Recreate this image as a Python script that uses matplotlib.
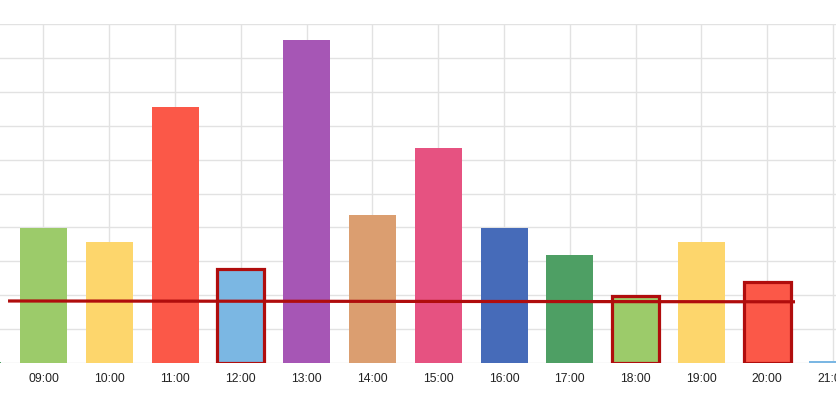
import matplotlib
matplotlib.use("Agg")
import matplotlib.pyplot as plt
import numpy as np

hours = ["08:00", "09:00", "10:00", "11:00", "12:00", "13:00", "14:00",
         "15:00", "16:00", "17:00", "18:00", "19:00", "20:00", "21:00"]
counts = [0.1, 10, 9, 19, 7, 24, 11, 16, 10, 8, 5, 9, 6, 0.15]
highlighted = ["12:00", "18:00", "20:00"]
palette = ["#4E9F64", "#9CCB6A", "#FDD66C", "#FB5848", "#7BB7E3",
           "#A656B5", "#DB9E70", "#E65281", "#466BB9"]
ref_line_start = 4.61
ref_line_end = 4.55
y_max = 25.2

plt.rcParams['font.family'] = ['Liberation Sans', 'DejaVu Sans']

fig = plt.figure(figsize=(8.36, 3.95), dpi=100)
ax = fig.add_axes([0, 1 - 363 / 395, 1, (363 - 24) / 395])

x = np.arange(len(hours))
colors = [palette[i % len(palette)] for i in range(len(hours))]
bars = ax.bar(x, counts, width=0.714, color=colors, zorder=2, linewidth=0)
for b, h in zip(bars, hours):
    if h in highlighted:
        b.set_edgecolor("#B00D0D")
        b.set_linewidth(2.3)
        b.set_zorder(3)

ax.plot([0.461, 12.423], [ref_line_start, ref_line_end], color="#B00D0D",
        linewidth=2.3, zorder=4, solid_capstyle="butt")

ax.set_yticks(np.linspace(0, y_max, 11))
ax.set_xticks(x)
ax.set_xticklabels(hours, fontsize=8.8, color="#222222")
ax.set_xlim(0.339, 13.046)
ax.set_ylim(0, y_max)
ax.tick_params(axis='both', length=0, pad=7)
ax.tick_params(axis='y', labelleft=False)
ax.grid(True, color="#E2E2E2", linewidth=1.0, zorder=0)
ax.set_axisbelow(True)
for s in ax.spines.values():
    s.set_visible(False)

fig.savefig("out.png", dpi=100)
